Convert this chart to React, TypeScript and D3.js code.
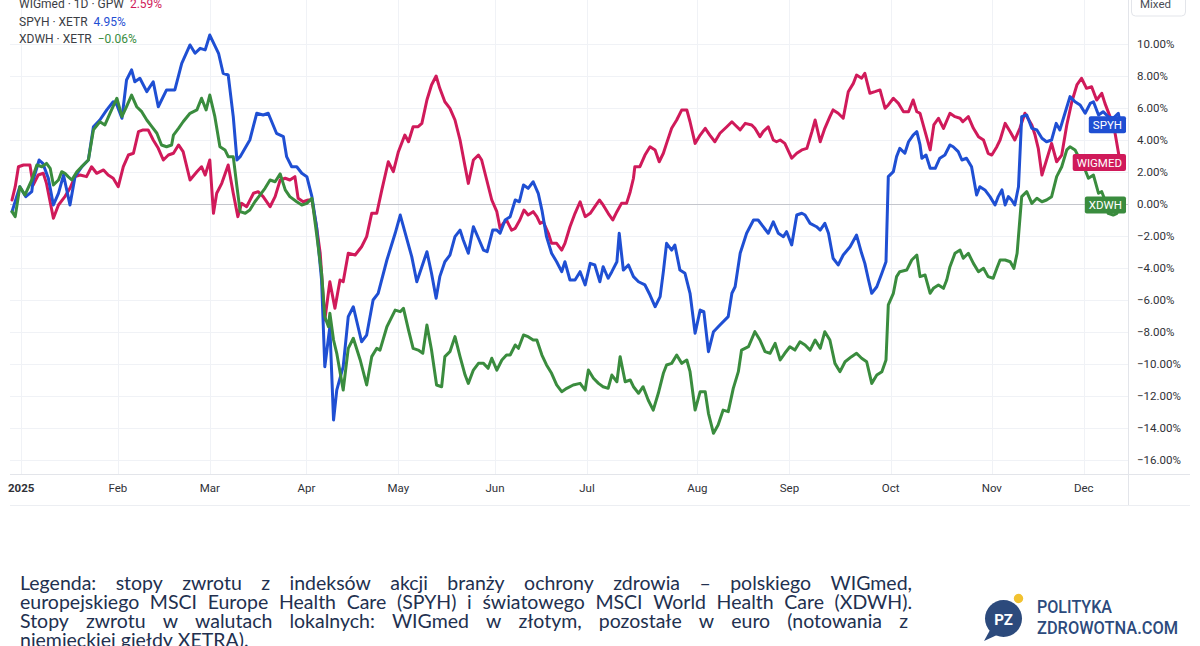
import React, { useEffect, useRef } from 'react';
import * as d3 from 'd3';

const W = 1200;
const H = 646;

// price scale ticks (percent)
const yTicks = [10, 8, 6, 4, 2, 0, -2, -4, -6, -8, -10, -12, -14, -16];

// time axis: trading-day index of the first session of each month
const monthLabels = ['2025', 'Feb', 'Mar', 'Apr', 'May', 'Jun', 'Jul', 'Aug', 'Sep', 'Oct', 'Nov', 'Dec'];
const monthDays = [2, 23, 43, 64, 84, 105, 125, 149, 169, 191, 213, 233];

const legendNames = ['WIGmed · 1D · GPW', 'SPYH · XETR', 'XDWH · XETR'];
const tagNames = ['WIGMED', 'SPYH', 'XDWH'];
const lastValues = [2.59, 4.95, -0.06];
const colors = ['#d01a5a', '#1f4fd3', '#3a8c3e'];

// [trading day, % change]
const wigmed: [number, number][] = [
  [0, 0.25], [0.7, 1.08], [1.4, 2.33], [2.5, 2.44], [3.9, 2.44], [4.6, 1.19], [5.7, 1.81], [6.8, 1.92], [7.5, 1.29], [9.0, -0.89],
  [10.1, -0.06], [11.5, 0.46], [12.6, 0.98], [13.7, 1.71], [14.8, 1.81], [16.2, 1.71], [17.3, 2.33], [18.4, 1.92], [19.9, 2.13], [20.9, 1.81],
  [22.0, 1.61], [23.1, 1.08], [24.2, 2.33], [25.3, 3.06], [26.4, 3.17], [27.5, 4.52], [28.5, 4.63], [29.6, 4.63], [30.7, 4.0], [31.8, 3.48],
  [32.9, 2.75], [34.0, 3.06], [35.1, 3.17], [36.2, 3.69], [37.2, 3.27], [38.7, 1.5], [40.2, 2.02], [41.2, 2.33], [42.0, 1.81], [43.0, 2.75],
  [43.8, -0.58], [44.5, 0.67], [45.6, 1.29], [47.0, 2.44], [48.1, 0.67], [49.1, -0.79], [49.9, 0.04], [51.0, -0.17], [52.5, 0.67], [53.5, 0.77],
  [54.6, 0.46], [56.1, -0.17], [57.2, 0.46], [58.3, 1.5], [59.4, 1.61], [60.4, 1.5], [61.5, 1.71], [62.2, 0.36], [63.3, 0.14], [64.4, 0.25],
  [65.2, 0.25], [66.2, -1.42], [67.0, -3.08], [68.0, -7.25], [69.1, -4.86], [70.2, -6.52], [71.3, -4.75], [72.0, -4.86], [73.1, -3.08], [74.6, -3.19],
  [76.0, -2.67], [77.1, -2.04], [78.2, -0.58], [79.3, -0.58], [80.4, 0.88], [81.8, 2.64], [82.9, 2.02], [84.0, 3.27], [85.4, 4.31], [86.2, 3.89],
  [87.2, 4.83], [88.3, 4.83], [89.1, 5.04], [90.2, 6.5], [91.2, 7.44], [92.2, 8.0], [93.0, 7.23], [94.1, 6.39], [95.2, 5.98], [96.3, 5.25],
  [97.4, 4.0], [98.5, 2.33], [99.2, 1.29], [100.3, 2.75], [101.4, 3.06], [102.1, 2.75], [103.2, 1.5], [104.3, 0.25], [105.4, -0.48], [106.1, -1.52],
  [106.8, -1.21], [107.5, -1.0], [108.6, -1.63], [109.4, -1.52], [110.4, -1.0], [111.3, -0.38], [112.2, -0.69], [113.3, -0.48], [114.1, -0.79], [114.8, -1.21],
  [115.5, -1.11], [116.6, -1.83], [117.3, -2.46], [118.4, -2.46], [119.5, -2.88], [120.2, -2.46], [121.3, -1.42], [122.4, -0.58], [123.5, 0.14], [124.6, -0.79],
  [125.7, -0.58], [126.7, -0.17], [127.7, 0.25], [128.5, -0.06], [129.6, -0.58], [130.6, -1.0], [131.5, -0.48], [132.5, 0.04], [133.6, 0.04], [134.4, 0.77],
  [135.1, 1.61], [135.4, 2.33], [136.5, 2.33], [137.6, 3.06], [138.7, 3.58], [139.8, 3.38], [140.7, 2.64], [141.6, 3.17], [142.3, 3.79], [143.4, 4.73],
  [144.5, 5.25], [145.6, 5.88], [146.7, 5.88], [147.4, 5.14], [148.5, 3.79], [149.6, 4.31], [150.7, 4.73], [151.7, 4.31], [152.8, 3.89], [153.9, 4.42],
  [155.4, 4.83], [156.5, 5.14], [157.2, 4.94], [158.3, 4.63], [159.4, 5.04], [160.8, 4.94], [161.5, 4.73], [162.6, 4.21], [163.3, 4.52], [164.4, 4.83],
  [165.5, 4.0], [166.2, 3.89], [167.0, 4.0], [168.0, 3.79], [169.5, 2.86], [170.6, 3.17], [171.7, 3.38], [172.8, 3.48], [173.9, 4.52], [174.6, 5.25],
  [175.7, 3.89], [176.7, 4.73], [177.8, 5.46], [178.5, 5.88], [179.6, 5.67], [180.7, 5.36], [181.8, 7.02], [182.9, 7.54], [183.6, 8.06], [184.7, 7.86],
  [185.4, 8.17], [186.5, 6.92], [187.6, 7.02], [188.7, 7.13], [189.8, 5.98], [190.5, 6.19], [191.6, 6.61], [192.7, 6.29], [193.8, 5.77], [194.9, 5.77],
  [195.9, 6.5], [196.7, 5.77], [197.4, 5.67], [198.5, 4.52], [199.6, 3.38], [200.4, 4.94], [201.4, 5.36], [202.5, 4.73], [203.9, 5.67], [205.0, 5.46],
  [206.1, 5.36], [206.7, 5.14], [207.9, 5.46], [209.0, 4.73], [210.1, 4.21], [211.2, 4.0], [212.2, 3.17], [213.0, 3.06], [214.1, 3.58], [214.8, 4.0],
  [215.9, 5.04], [217.0, 4.52], [218.0, 4.0], [219.1, 4.73], [220.2, 5.67], [221.7, 4.94], [222.4, 4.31], [223.1, 3.48], [223.9, 1.81], [224.9, 2.75],
  [226.0, 3.79], [227.1, 2.64], [228.2, 3.06], [229.3, 4.94], [230.4, 6.39], [231.5, 7.44], [232.5, 7.86], [233.6, 7.23], [234.7, 7.33], [235.8, 6.5],
  [236.9, 6.92], [237.6, 6.29], [238.7, 5.46], [239.8, 4.42], [240.9, 2.59],
];

const spyh: [number, number][] = [
  [0, -0.48], [1.7, 1.08], [3.0, 0.46], [4.3, 0.77], [4.6, 1.5], [5.9, 2.75], [6.7, 2.54], [7.9, 1.61], [9.0, -0.06], [10.1, 0.67],
  [11.2, 1.81], [12.6, -0.06], [13.7, 1.71], [15.2, 2.33], [16.6, 2.75], [17.7, 4.83], [19.1, 5.25], [20.6, 5.88], [22.0, 6.39], [22.8, 6.19],
  [23.9, 5.36], [24.9, 7.75], [26.0, 8.38], [26.7, 7.64], [27.8, 7.86], [29.3, 7.02], [30.7, 7.64], [31.8, 6.08], [33.6, 7.13], [35.4, 7.13],
  [36.9, 8.79], [38.7, 9.94], [39.8, 9.42], [40.9, 9.73], [42.0, 9.63], [43.0, 10.56], [44.9, 9.42], [45.9, 8.17], [47.0, 8.06], [48.1, 5.46],
  [48.9, 2.75], [49.6, 2.96], [51.7, 4.0], [53.2, 5.67], [54.6, 5.56], [55.7, 5.67], [57.5, 4.42], [59.0, 4.21], [59.7, 2.96], [60.8, 2.33],
  [61.9, 2.33], [63.0, 1.92], [64.1, 1.71], [65.2, 0.46], [66.2, -1.42], [67.3, -4.75], [68.0, -10.17], [69.1, -7.67], [69.9, -13.5], [70.6, -11.63],
  [72.0, -10.17], [73.1, -7.04], [74.2, -6.42], [76.0, -8.61], [77.1, -8.19], [78.5, -6.0], [79.6, -5.58], [81.5, -3.5], [83.3, -1.83], [84.4, -0.69],
  [86.9, -3.29], [88.0, -4.86], [89.1, -3.92], [90.2, -2.98], [91.2, -4.33], [92.2, -5.89], [93.0, -4.54], [94.1, -3.61], [95.2, -3.19], [96.3, -2.04],
  [97.4, -1.63], [98.1, -2.25], [99.2, -3.08], [100.3, -1.42], [101.4, -2.14], [102.5, -2.88], [103.3, -2.98], [104.5, -1.63], [105.4, -1.63], [106.1, -1.83],
  [107.2, -1.0], [108.3, -0.79], [109.4, 0.25], [110.3, 0.14], [111.2, 1.19], [112.2, 0.98], [113.3, 1.39], [114.4, 0.67], [115.2, -0.38], [116.2, -2.04],
  [117.3, -3.08], [118.4, -3.61], [119.5, -4.23], [120.2, -3.61], [121.3, -4.75], [122.4, -4.75], [123.5, -4.23], [124.6, -5.06], [125.7, -3.71], [126.7, -3.81],
  [127.8, -4.86], [128.5, -3.92], [129.6, -4.64], [130.4, -4.23], [131.5, -3.61], [132.0, -1.83], [132.9, -4.13], [134.0, -3.81], [135.1, -4.54], [136.2, -4.86],
  [137.6, -5.06], [138.7, -5.69], [139.8, -6.42], [140.9, -5.79], [141.6, -4.23], [142.3, -2.46], [143.4, -2.88], [144.1, -2.56], [145.2, -4.13], [146.3, -4.33],
  [147.4, -5.58], [148.5, -8.08], [149.6, -6.63], [150.4, -6.73], [151.4, -9.23], [152.5, -7.98], [153.9, -7.56], [155.7, -7.04], [156.5, -5.58], [157.2, -5.17],
  [158.3, -3.08], [159.7, -1.83], [161.2, -1.0], [162.2, -1.0], [163.3, -1.42], [164.4, -1.83], [165.5, -1.11], [166.6, -1.83], [167.7, -2.04], [168.4, -1.73],
  [169.5, -2.56], [170.6, -0.69], [171.7, -0.58], [172.4, -0.69], [173.5, -1.21], [174.9, -1.42], [175.7, -1.63], [176.7, -1.21], [177.5, -1.83], [178.5, -3.39],
  [179.6, -3.81], [180.7, -3.19], [182.2, -2.67], [183.6, -1.94], [184.7, -3.08], [185.4, -3.71], [186.2, -4.75], [186.9, -5.58], [188.0, -5.17], [189.1, -4.33],
  [190.0, -3.61], [190.5, 1.71], [191.6, 2.02], [192.3, 2.96], [193.0, 3.48], [194.1, 3.17], [194.9, 3.89], [195.9, 4.31], [196.7, 4.52], [197.4, 3.69],
  [197.8, 2.86], [198.7, 3.06], [199.6, 2.23], [200.7, 2.23], [201.7, 2.86], [202.8, 3.06], [203.9, 3.69], [204.6, 3.58], [205.7, 3.27], [206.5, 2.75],
  [207.5, 2.86], [208.6, 2.33], [209.7, 0.56], [210.4, 1.08], [211.5, 0.88], [212.6, 0.46], [213.7, -0.06], [214.4, 0.46], [215.2, 0.88], [215.9, -0.06],
  [216.6, 0.46], [217.3, 0.25], [218.0, -0.06], [218.8, 1.08], [219.5, 5.46], [220.6, 5.56], [221.7, 4.73], [222.8, 4.63], [223.9, 4.11], [224.9, 3.89],
  [226.0, 4.0], [227.0, 5.04], [227.8, 4.63], [228.9, 5.67], [230.0, 6.71], [231.1, 6.39], [232.2, 6.19], [233.3, 5.67], [234.4, 6.29], [235.1, 6.39],
  [236.2, 5.56], [237.2, 5.77], [238.3, 5.46], [239.4, 5.36], [240.5, 5.67], [241.0, 4.95],
];

const xdwh: [number, number][] = [
  [0, -0.48], [0.7, -0.79], [1.7, 1.08], [2.8, 0.56], [4.3, 1.5], [5.4, 2.44], [6.5, 2.33], [7.5, 2.54], [8.3, 2.23], [9.0, 1.19],
  [10.1, 1.5], [10.8, 2.02], [11.5, 1.92], [12.2, 1.71], [13.0, 1.5], [14.1, 2.02], [15.5, 2.44], [16.6, 2.75], [17.7, 4.63], [19.1, 5.14],
  [20.2, 4.94], [21.3, 5.67], [22.8, 6.61], [23.9, 5.46], [24.9, 6.08], [26.0, 6.81], [27.1, 6.08], [28.2, 5.77], [29.3, 5.25], [30.4, 4.83],
  [31.5, 4.42], [32.5, 3.69], [33.6, 3.58], [34.7, 3.69], [35.1, 4.31], [36.2, 4.73], [37.2, 5.14], [38.7, 5.67], [40.2, 5.88], [41.2, 6.61],
  [42.2, 5.88], [43.0, 6.81], [44.1, 5.46], [45.2, 3.58], [46.3, 3.38], [47.0, 2.96], [48.1, 2.96], [48.9, 1.08], [49.6, -0.48], [50.7, -0.58],
  [51.7, -0.38], [52.8, 0.14], [53.9, 0.56], [55.0, 0.98], [56.1, 1.5], [57.2, 1.39], [58.3, 1.88], [59.4, 0.88], [60.4, 0.46], [61.9, 0.14],
  [63.0, -0.06], [64.1, 0.04], [65.2, 0.36], [66.2, -1.83], [67.3, -4.33], [68.0, -7.04], [68.8, -7.67], [69.1, -6.83], [69.9, -8.5], [70.6, -9.33],
  [72.0, -11.63], [73.1, -9.02], [74.2, -8.39], [75.7, -9.75], [77.1, -11.31], [78.2, -9.54], [79.3, -9.02], [80.0, -9.13], [81.5, -7.67], [83.3, -6.63],
  [84.4, -6.73], [85.1, -6.52], [86.2, -7.88], [87.2, -9.02], [88.3, -9.13], [89.3, -9.33], [90.2, -7.56], [91.2, -9.13], [92.3, -11.31], [93.4, -11.42],
  [94.1, -9.54], [95.2, -9.23], [96.3, -8.29], [97.4, -9.54], [98.5, -10.69], [99.2, -11.21], [100.3, -10.38], [101.4, -9.96], [102.5, -9.96], [103.5, -10.27],
  [104.3, -9.64], [105.4, -10.38], [106.5, -9.75], [107.5, -9.44], [108.3, -9.44], [109.4, -8.81], [110.1, -9.02], [111.2, -8.19], [112.2, -8.29], [113.3, -8.5],
  [114.1, -8.5], [115.2, -9.44], [116.2, -10.06], [117.3, -10.58], [118.4, -11.31], [119.5, -11.73], [120.6, -11.52], [122.0, -11.31], [123.5, -11.21], [124.6, -11.63],
  [125.3, -10.38], [126.4, -10.89], [127.5, -11.21], [128.5, -11.42], [129.6, -11.52], [130.4, -10.69], [131.5, -11.11], [132.2, -9.54], [133.3, -11.11], [134.4, -11.0],
  [135.1, -11.42], [136.2, -11.83], [137.2, -11.42], [138.3, -12.25], [139.4, -12.88], [140.5, -11.83], [141.6, -10.58], [142.3, -10.06], [143.4, -9.96], [144.5, -9.44],
  [145.6, -9.96], [146.7, -9.75], [147.4, -10.48], [148.5, -12.88], [149.6, -11.73], [150.7, -11.73], [151.4, -13.08], [152.5, -14.33], [153.5, -13.81], [154.6, -12.88],
  [155.7, -12.98], [156.8, -11.52], [157.9, -10.48], [158.6, -9.13], [160.1, -8.92], [161.5, -7.98], [162.6, -8.5], [163.7, -9.23], [164.8, -9.33], [165.9, -8.71],
  [167.0, -9.75], [168.0, -9.33], [169.1, -8.92], [170.2, -9.13], [171.3, -8.61], [172.4, -8.81], [173.5, -9.13], [174.6, -8.5], [175.7, -9.02], [176.7, -7.98],
  [177.8, -8.5], [178.9, -9.96], [180.0, -10.48], [181.1, -9.86], [182.5, -9.54], [183.6, -9.33], [184.7, -9.64], [185.8, -9.86], [186.9, -11.21], [188.0, -10.69],
  [189.1, -10.48], [190.0, -9.75], [190.5, -6.31], [191.6, -5.58], [192.3, -4.54], [193.0, -4.23], [194.5, -4.13], [195.6, -3.5], [196.7, -3.19], [197.4, -4.54],
  [198.5, -4.44], [199.6, -5.58], [200.3, -5.27], [201.4, -5.06], [202.5, -5.27], [203.2, -4.75], [203.9, -3.92], [205.0, -3.08], [206.1, -2.88], [206.8, -3.39],
  [207.9, -3.08], [209.0, -3.71], [210.1, -4.23], [211.2, -4.02], [212.2, -4.54], [213.3, -4.64], [214.1, -4.02], [214.8, -3.5], [215.9, -3.5], [217.0, -3.61],
  [217.8, -4.02], [218.5, -3.08], [219.5, 0.46], [220.6, 0.77], [221.7, 0.04], [222.8, 0.36], [223.9, 0.14], [224.9, 0.25], [226.0, 0.46], [227.1, 1.71],
  [228.2, 2.33], [229.3, 3.38], [230.0, 3.58], [231.1, 3.38], [232.2, 2.75], [233.3, 2.13], [234.0, 1.61], [235.1, 1.81], [236.2, 0.67], [236.9, 0.77],
  [237.6, 0.25], [238.3, -0.58], [239.4, -0.69], [240.2, -0.58], [240.9, -0.06],
];

const noteLines = [
  'Legenda: stopy zwrotu z indeksów akcji branży ochrony zdrowia – polskiego WIGmed,',
  'europejskiego MSCI Europe Health Care (SPYH) i światowego MSCI World Health Care (XDWH).',
  'Stopy zwrotu w walutach lokalnych: WIGmed w złotym, pozostałe w euro (notowania z',
  'niemieckiej giełdy XETRA).',
];

const fmtPct = (v: number) => (v < 0 ? '\u2212' : '') + Math.abs(v).toFixed(2) + '%';

export default function App() {
  const svgRef = useRef<SVGSVGElement>(null);

  useEffect(() => {
    if (!svgRef.current) return;
    document.body.style.margin = '0';
    const svg = d3.select(svgRef.current);
    svg.selectAll('*').remove();

    const plotL = 10, plotR = 1128, plotB = 474;
    const x = d3.scaleLinear().domain([0, 241]).range([12, 1120.6]);
    const y = d3.scaleLinear().domain([-16, 10]).range([460, 44]);
    const uiFont = 'Roboto, "Liberation Sans", sans-serif';

    svg.append('rect').attr('width', W).attr('height', H).attr('fill', '#fff');

    // grid
    svg.append('g').selectAll('line')
      .data(yTicks.filter(d => d !== 0))
      .join('line')
      .attr('x1', plotL).attr('x2', plotR)
      .attr('y1', d => Math.round(y(d)) + 0.5).attr('y2', d => Math.round(y(d)) + 0.5)
      .attr('stroke', '#f0f2f6');
    svg.append('g').selectAll('line')
      .data(monthDays)
      .join('line')
      .attr('x1', d => Math.round(x(d)) + 0.5).attr('x2', d => Math.round(x(d)) + 0.5)
      .attr('y1', 0).attr('y2', plotB)
      .attr('stroke', '#f0f2f6');

    // zero line
    svg.append('line')
      .attr('x1', plotL).attr('x2', plotR)
      .attr('y1', Math.round(y(0)) + 0.5).attr('y2', Math.round(y(0)) + 0.5)
      .attr('stroke', '#c4c6cc');

    // frames of the axes
    svg.append('line').attr('x1', plotR + 0.5).attr('x2', plotR + 0.5).attr('y1', 0).attr('y2', 506).attr('stroke', '#e3e5ea');
    svg.append('line').attr('x1', plotL).attr('x2', 1190).attr('y1', plotB + 0.5).attr('y2', plotB + 0.5).attr('stroke', '#e3e5ea');
    svg.append('line').attr('x1', plotL).attr('x2', 1190).attr('y1', 505.5).attr('y2', 505.5).attr('stroke', '#eceef2');

    // price scale
    svg.append('g').selectAll('text')
      .data(yTicks)
      .join('text')
      .attr('x', 1137).attr('y', d => y(d) + 4)
      .attr('font-family', uiFont).attr('font-size', 11.5).attr('fill', '#2f3137')
      .text(d => fmtPct(d));

    svg.append('rect').attr('x', 1131.5).attr('y', -10).attr('width', 54).attr('height', 26).attr('rx', 4)
      .attr('fill', '#fff').attr('stroke', '#e3e5ea');
    svg.append('text').attr('x', 1140).attr('y', 8).attr('font-family', uiFont).attr('font-size', 11.5)
      .attr('fill', '#4a4d55').text('Mixed');

    // time axis
    svg.append('g').selectAll('text')
      .data(monthDays)
      .join('text')
      .attr('x', d => x(d)).attr('y', 492)
      .attr('text-anchor', 'middle')
      .attr('font-family', uiFont).attr('font-size', 11.5).attr('fill', '#2f3137')
      .attr('font-weight', (d, i) => (i === 0 ? 700 : 400))
      .text((d, i) => monthLabels[i]);

    // series
    const line = d3.line<[number, number]>().x(d => x(d[0])).y(d => y(d[1]));
    [wigmed, spyh, xdwh].forEach((s, i) => {
      svg.append('path')
        .datum(s)
        .attr('d', line)
        .attr('fill', 'none')
        .attr('stroke', colors[i])
        .attr('stroke-width', 3)
        .attr('stroke-linejoin', 'round')
        .attr('stroke-linecap', 'round');
    });

    // last value tags
    tagNames.forEach((name, i) => {
      const cy = y(lastValues[i]);
      const g = svg.append('g');
      const rect = g.append('rect').attr('fill', colors[i]).attr('rx', 2);
      const t = g.append('text')
        .attr('x', 1122).attr('y', cy + 4)
        .attr('text-anchor', 'end')
        .attr('font-family', uiFont).attr('font-size', 11.5).attr('fill', '#fff')
        .text(name);
      const w = (t.node() as SVGTextElement).getComputedTextLength();
      rect.attr('x', 1126 - w - 8).attr('y', cy - 8.5).attr('width', w + 8).attr('height', 17);
    });

    // legend
    legendNames.forEach((name, i) => {
      const t = svg.append('text')
        .attr('x', 19).attr('y', 8 + i * 17.5)
        .attr('font-family', uiFont).attr('font-size', 12).attr('fill', '#3a3d44');
      t.append('tspan').text(name);
      t.append('tspan').attr('dx', 6).attr('fill', colors[i]).text(fmtPct(lastValues[i]));
    });

    // note below the chart, justified word by word
    const note = svg.append('g').attr('font-family', 'Lato, "Open Sans", sans-serif')
      .attr('font-size', 19.5).attr('fill', '#22304f');
    const noteRight = [912, 912, 908, 0];
    noteLines.forEach((txt, i) => {
      const words = txt.split(' ');
      const nodes = words.map(wd => note.append('text').attr('y', 590 + i * 19).text(wd));
      const widths = nodes.map(n => (n.node() as SVGTextElement).getComputedTextLength());
      const total = d3.sum(widths);
      const gap = noteRight[i] ? (noteRight[i] - 20 - total) / (words.length - 1) : 5;
      let cx = 20;
      nodes.forEach((n, j) => {
        n.attr('x', cx);
        cx += widths[j] + gap;
      });
    });

    // logo
    const logo = svg.append('g');
    logo.append('path')
      .attr('d', 'M990,630 L984,641 L997,635 Z')
      .attr('fill', '#2c4a7c');
    logo.append('circle').attr('cx', 1003.5).attr('cy', 618.5).attr('r', 18.5).attr('fill', '#2c4a7c');
    logo.append('circle').attr('cx', 1018.5).attr('cy', 598.5).attr('r', 5.5).attr('fill', '#f2c230')
      .attr('stroke', '#fff').attr('stroke-width', 1.5);
    logo.append('text').attr('x', 1003.5).attr('y', 624.5).attr('text-anchor', 'middle')
      .attr('font-family', uiFont).attr('font-weight', 700).attr('font-size', 15).attr('fill', '#fff').text('PZ');
    logo.append('text').attr('x', 1037).attr('y', 613)
      .attr('font-family', uiFont).attr('font-weight', 500).attr('font-size', 18).attr('fill', '#2c4a7c')
      .attr('textLength', 75).attr('lengthAdjust', 'spacingAndGlyphs').text('POLITYKA');
    logo.append('text').attr('x', 1037).attr('y', 633.5)
      .attr('font-family', uiFont).attr('font-weight', 500).attr('font-size', 18).attr('fill', '#2c4a7c')
      .attr('textLength', 141).attr('lengthAdjust', 'spacingAndGlyphs').text('ZDROWOTNA.COM');
  }, []);

  return (
    <div style={{ position: 'absolute', left: 0, top: 0, width: W, height: H, overflow: 'hidden' }}>
      <svg ref={svgRef} width={W} height={H} style={{ display: 'block' }} />
    </div>
  );
}
